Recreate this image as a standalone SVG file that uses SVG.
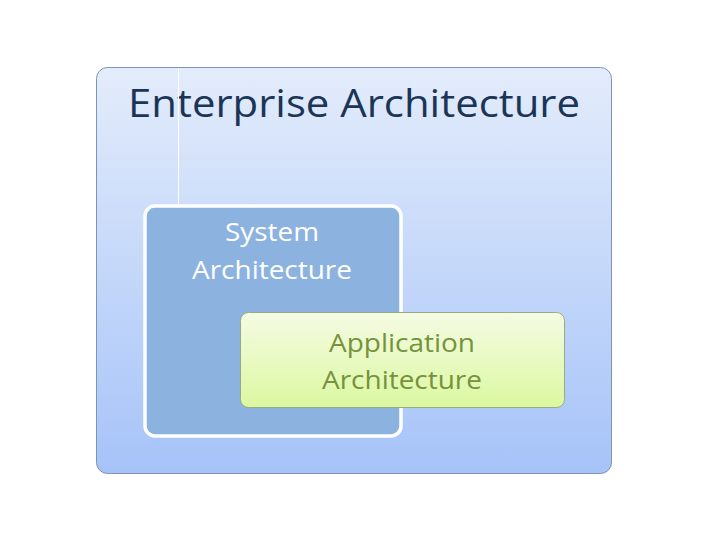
<svg xmlns="http://www.w3.org/2000/svg" width="720" height="540" viewBox="0 0 720 540">
<defs>
<linearGradient id="gOuter" x1="0" y1="0" x2="0" y2="1">
<stop offset="0" stop-color="#e3ecfb"/>
<stop offset="1" stop-color="#a6c3f8"/>
</linearGradient>
<linearGradient id="gApp" x1="0" y1="0" x2="0" y2="1">
<stop offset="0" stop-color="#f5fbe4"/>
<stop offset="1" stop-color="#dbf8a0"/>
</linearGradient>
</defs>
<style>
text{font-family:"Open Sans","Noto Sans","DejaVu Sans",sans-serif;text-anchor:middle}
.t1{font-size:39px;fill:#1b3558}
.t2{font-size:25px;fill:#ffffff}
.t3{font-size:25px;fill:#76923c}
</style>
<rect width="720" height="540" fill="#ffffff"/>
<g id="enterprise">
<rect x="96.5" y="67.5" width="515" height="406" rx="11" fill="url(#gOuter)" stroke="#7f94b4" stroke-width="1"/>
<text class="t1" x="354" y="117" textLength="452" lengthAdjust="spacingAndGlyphs">Enterprise Architecture</text>
</g>
<g id="connectors">
<line x1="178.5" y1="68" x2="178.5" y2="205" stroke="#ffffff" stroke-width="1"/>
</g>
<g id="system">
<rect x="145" y="206" width="256" height="230" rx="10" fill="#8cb2e0" stroke="#ffffff" stroke-width="3.5"/>
<text class="t2" x="272" y="241" textLength="94" lengthAdjust="spacingAndGlyphs">System</text>
<text class="t2" x="272" y="279" textLength="160" lengthAdjust="spacingAndGlyphs">Architecture</text>
</g>
<g id="application">
<rect x="240.5" y="312.5" width="324" height="95" rx="8" fill="url(#gApp)" stroke="#98ab80" stroke-width="1"/>
<text class="t3" x="402" y="352" textLength="146" lengthAdjust="spacingAndGlyphs">Application</text>
<text class="t3" x="402" y="389" textLength="160" lengthAdjust="spacingAndGlyphs">Architecture</text>
</g>
</svg>
